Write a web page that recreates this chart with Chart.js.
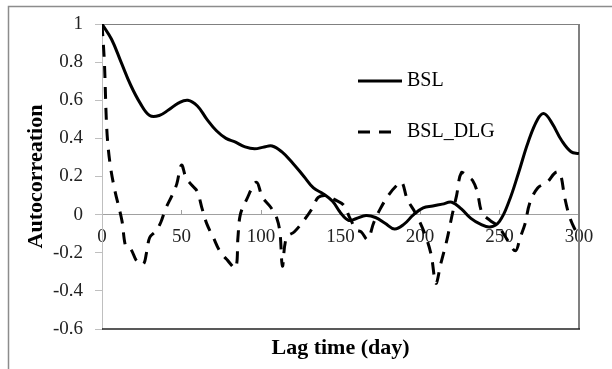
<!DOCTYPE html>
<html>
<head>
<meta charset="utf-8">
<script src="https://cdn.jsdelivr.net/npm/chart.js@4.4.1/dist/chart.umd.min.js"></script>
<style>
  html, body { margin: 0; padding: 0; background: #fff; }
  #wrap { position: relative; width: 612px; height: 369px; }
</style>
</head>
<body>
<div id="wrap"><canvas id="chart"></canvas></div>
<script>
// series names
const seriesNames = ['BSL', 'BSL_DLG'];

// BSL (solid)
const bslDays = [0, 6, 12, 18, 24, 30, 36, 42, 48, 54, 60, 66, 72, 78, 84, 90, 96, 102, 107, 113,
  120, 127, 133, 139, 145, 150, 155, 160, 166, 172, 178, 184, 190, 196, 202, 208, 214, 220, 226,
  232, 238, 244, 250, 256, 262, 268, 274, 278, 283, 289, 295, 300];
const bslValues = [1.0, 0.92, 0.80, 0.68, 0.585, 0.52, 0.52, 0.55, 0.585, 0.60, 0.57, 0.50, 0.44,
  0.40, 0.38, 0.355, 0.345, 0.355, 0.36, 0.33, 0.27, 0.20, 0.14, 0.11, 0.07, 0.01, -0.03, -0.02,
  -0.005, -0.015, -0.045, -0.075, -0.05, 0.0, 0.035, 0.045, 0.055, 0.065, 0.03, -0.02, -0.05,
  -0.065, -0.035, 0.07, 0.22, 0.38, 0.50, 0.53, 0.48, 0.39, 0.33, 0.32];

// BSL_DLG (dashed)
const dlgDays = [0, 1.5, 3, 5, 8, 12.5, 15, 18, 22, 26, 28, 30, 34, 37, 40, 44, 47, 50, 53, 57,
  60, 63, 66, 70, 74, 79, 84, 85.5, 87, 91, 97, 101, 106, 110, 112, 113.5, 116, 121, 127, 132,
  136, 141, 146, 152, 156, 160, 163, 167, 171, 175, 180, 185, 188.5, 192, 197, 203, 207, 210,
  213, 217, 220, 223, 226, 230, 233, 236, 239, 244, 249, 254, 260, 263, 266, 269, 274, 280, 285,
  288, 291, 294, 297, 300];
const dlgValues = [1.0, 0.8, 0.45, 0.27, 0.13, -0.03, -0.17, -0.18, -0.245, -0.26, -0.2, -0.12,
  -0.085, -0.04, 0.03, 0.1, 0.16, 0.26, 0.19, 0.15, 0.12, 0.03, -0.05, -0.12, -0.19, -0.24,
  -0.28, -0.12, 0.0, 0.08, 0.17, 0.09, 0.04, -0.02, -0.1, -0.27, -0.12, -0.09, -0.03, 0.03,
  0.09, 0.10, 0.08, 0.05, -0.02, -0.08, -0.09, -0.13, -0.04, 0.03, 0.1, 0.15, 0.17, 0.08, 0.01,
  -0.1, -0.21, -0.36, -0.26, -0.13, -0.01, 0.1, 0.22, 0.2, 0.18, 0.12, 0.01, -0.03, -0.06,
  -0.12, -0.19, -0.12, -0.05, 0.06, 0.14, 0.17, 0.22, 0.22, 0.09, -0.01, -0.07, -0.11];

const xMin = 0, xMax = 300, xStep = 50;
const yMin = -0.6, yMax = 1, yStep = 0.2;

const serif = '"Liberation Serif", "Times New Roman", serif';

function toPoints(days, values) {
  return days.map((d, i) => ({ x: d, y: values[i] }));
}

// frame around the whole figure + box around plot area
const framePlugin = {
  id: 'frame',
  beforeDraw(chart) {
    const ctx = chart.ctx;
    ctx.save();
    ctx.strokeStyle = '#8c8c8c';
    ctx.lineWidth = 1.5;
    ctx.beginPath();
    ctx.moveTo(8.5, chart.height);
    ctx.lineTo(8.5, 6.5);
    ctx.lineTo(chart.width, 6.5);
    ctx.stroke();
    ctx.restore();
  },
  beforeDatasetsDraw(chart) {
    const { ctx, chartArea: a } = chart;
    ctx.save();
    ctx.strokeStyle = '#808080';
    ctx.lineWidth = 1;
    ctx.beginPath();
    ctx.moveTo(a.left, a.top + 0.5);
    ctx.lineTo(a.right, a.top + 0.5);
    ctx.stroke();
    ctx.lineWidth = 2;
    ctx.beginPath();
    ctx.moveTo(a.right, a.top);
    ctx.lineTo(a.right, a.bottom);
    ctx.stroke();
    ctx.strokeStyle = '#222';
    ctx.lineWidth = 1.5;
    ctx.beginPath();
    ctx.moveTo(a.left, a.bottom);
    ctx.lineTo(a.right + 1, a.bottom);
    ctx.stroke();
    ctx.restore();
  }
};

// legend inside the plot
const legendPlugin = {
  id: 'insideLegend',
  afterDatasetsDraw(chart) {
    const ctx = chart.ctx;
    chart.data.datasets.forEach((ds, i) => {
      const y = 81 + i * 51;
      ctx.save();
      ctx.strokeStyle = ds.borderColor;
      ctx.lineWidth = ds.borderWidth;
      ctx.setLineDash(ds.borderDash || []);
      ctx.beginPath();
      ctx.moveTo(358, y);
      ctx.lineTo(i ? 393 : 402, y);
      ctx.stroke();
      ctx.setLineDash([]);
      ctx.fillStyle = '#000';
      ctx.font = '20px ' + serif;
      ctx.textBaseline = 'middle';
      ctx.fillText(ds.label, 407, y);
      ctx.restore();
    });
  }
};

new Chart(document.getElementById('chart'), {
  type: 'line',
  data: {
    datasets: [{
      label: seriesNames[0],
      data: toPoints(bslDays, bslValues),
      borderColor: '#000',
      borderWidth: 3,
      pointRadius: 0,
      tension: 0.4,
      fill: false
    }, {
      label: seriesNames[1],
      data: toPoints(dlgDays, dlgValues),
      borderColor: '#000',
      borderWidth: 3,
      borderDash: [12, 9],
      pointRadius: 0,
      tension: 0.35,
      fill: false
    }]
  },
  options: {
    responsive: true,
    maintainAspectRatio: false,
    animation: false,
    layout: { padding: { left: 0, right: 33, top: 24, bottom: 1.6 } },
    plugins: {
      legend: { display: false },
      tooltip: { enabled: false }
    },
    scales: {
      x: {
        type: 'linear',
        position: { y: 0 },
        min: xMin,
        max: xMax,
        ticks: {
          stepSize: xStep,
          color: '#222',
          font: { family: serif, size: 19 },
          padding: 16,
          maxRotation: 0
        },
        grid: { drawOnChartArea: false, drawTicks: true, tickLength: -5, color: '#a0a0a0' },
        border: { color: '#a0a0a0', width: 1 }
      },
      xt: {
        type: 'linear',
        position: 'bottom',
        ticks: { display: false },
        grid: { display: false, drawTicks: false },
        border: { display: false },
        title: {
          display: true,
          text: 'Lag time (day)',
          color: '#000',
          font: { family: serif, size: 22, weight: 'bold' },
          padding: { top: 6, bottom: 6 }
        }
      },
      y: {
        min: yMin,
        max: yMax,
        afterFit(scale) { scale.width = 102; },
        ticks: {
          stepSize: yStep,
          color: '#222',
          font: { family: serif, size: 19 },
          padding: 12,
          callback: v => String(Number(v.toFixed(1)))
        },
        grid: { drawOnChartArea: false, drawTicks: true, tickLength: 7, color: '#bfbfbf' },
        border: { color: '#bfbfbf', width: 1 },
        title: {
          display: true,
          text: 'Autocorreation',
          color: '#000',
          font: { family: serif, size: 22, weight: 'bold' },
          padding: { top: 23, bottom: 0 }
        }
      }
    }
  },
  plugins: [framePlugin, legendPlugin]
});
</script>
</body>
</html>
